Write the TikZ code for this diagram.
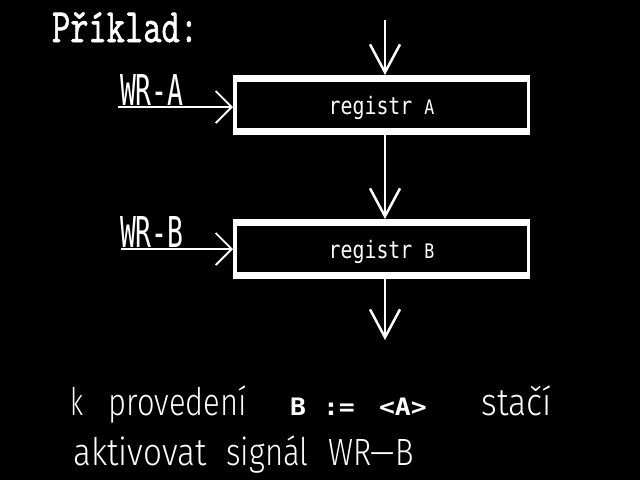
\documentclass[tikz,border=0pt]{standalone}
\usepackage{fontspec}
\usepackage{graphicx}
\usetikzlibrary{arrows.meta}
\newfontfamily\dvm{DejaVu Sans Mono}
\newfontfamily\lmtt{Latin Modern Mono}[FakeBold=1.5]
\newfontfamily\fthin{Fira Sans Light}
\newcommand\bigfont{\fthin\fontsize{38}{38}\selectfont}
\newcommand\boldfont{\dvm\bfseries\fontsize{24}{24}\selectfont}
\newcommand\fitw[2]{\resizebox{#1pt}{\height}{#2}}
\begin{document}
\begin{tikzpicture}[x=1pt,y=-1pt,
  regbox/.style={fill=white, minimum width=297pt, minimum height=60pt,
    inner sep=0pt, outer sep=0pt, text=white, text height=18pt, text depth=0pt,
    path picture={\fill[black] ([xshift=3.5pt,yshift=-7pt]path picture bounding box.north west)
      rectangle ([xshift=-3.5pt,yshift=7pt]path picture bounding box.south east);}},
  vArr/.style={draw=white, line width=2pt,
    -{Straight Barb[length=28pt,width=30pt,line width=2.5pt]}},
  sArr/.style={draw=white, line width=2.5pt,
    -{Straight Barb[length=16pt,width=32pt,line width=1.8pt]}},
  lbl/.style={text=white, inner sep=0pt, outer sep=0pt, anchor=base west},
  sigfont/.style={font=\dvm\fontsize{42.5}{42.5}\selectfont},
]
\fill[black] (0,0) rectangle (640,480);
\useasboundingbox (0,0) rectangle (640,480);

% title
\node[lbl, font=\lmtt\fontsize{49}{49}\selectfont] (ttl) at (52,42) {\resizebox{146pt}{30.5pt}{Příklad:}};

% registers
\node[regbox] (ra) at (381.5,105) {\scalebox{0.83}[1]{\dvm\fontsize{24}{24}\selectfont registr\ \fontsize{20}{20}\selectfont A}};
\node[regbox] (rb) at (381.5,249) {\scalebox{0.83}[1]{\dvm\fontsize{24}{24}\selectfont registr\ \fontsize{20}{20}\selectfont B}};

% data path
\coordinate (topin) at (385,20);
\coordinate (botout) at (385,340);
\draw[vArr] (topin) -- (topin |- ra.north);
\draw[vArr] (ra.south -| topin) -- (rb.north -| topin);
\draw[vArr] (rb.south -| topin) -- (botout);

% write signals
\coordinate (wra) at (118,107);
\coordinate (wrb) at (121,249);
\draw[sArr] (wra) -- (wra -| ra.west);
\draw[sArr] (wrb) -- (wrb -| rb.west);
\node[lbl, sigfont] (la) at (120,105.5) {\scalebox{0.62}[1]{WR-A}};
\node[lbl, sigfont] (lb) at (120,247.5) {\scalebox{0.62}[1]{WR-B}};

% bottom text
\node[lbl, font=\bigfont] (t1) at (70,415) {\fitw{13}{k}};
\node[lbl, font=\bigfont] (t2) at (108.5,415) {\fitw{138}{provedení}};
\node[lbl, font=\boldfont] (t3) at (290,415) {\scalebox{1.1}[1]{B}};
\node[lbl, font=\boldfont] (t4) at (323,415) {\scalebox{1.1}[1]{:=}};
\node[lbl, font=\boldfont] (t5) at (379,415) {\scalebox{1.1}[1]{<A>}};
\node[lbl, font=\bigfont] (t6) at (481.5,415) {\fitw{70}{stačí}};
\node[lbl, font=\bigfont] (t7) at (73.5,465) {\fitw{133}{aktivovat}};
\node[lbl, font=\bigfont] (t8) at (226.5,465) {\fitw{82}{signál}};
\node[lbl, font=\bigfont] (t9) at (328.5,465) {\fitw{85}{WR—B}};
\end{tikzpicture}
\end{document}
